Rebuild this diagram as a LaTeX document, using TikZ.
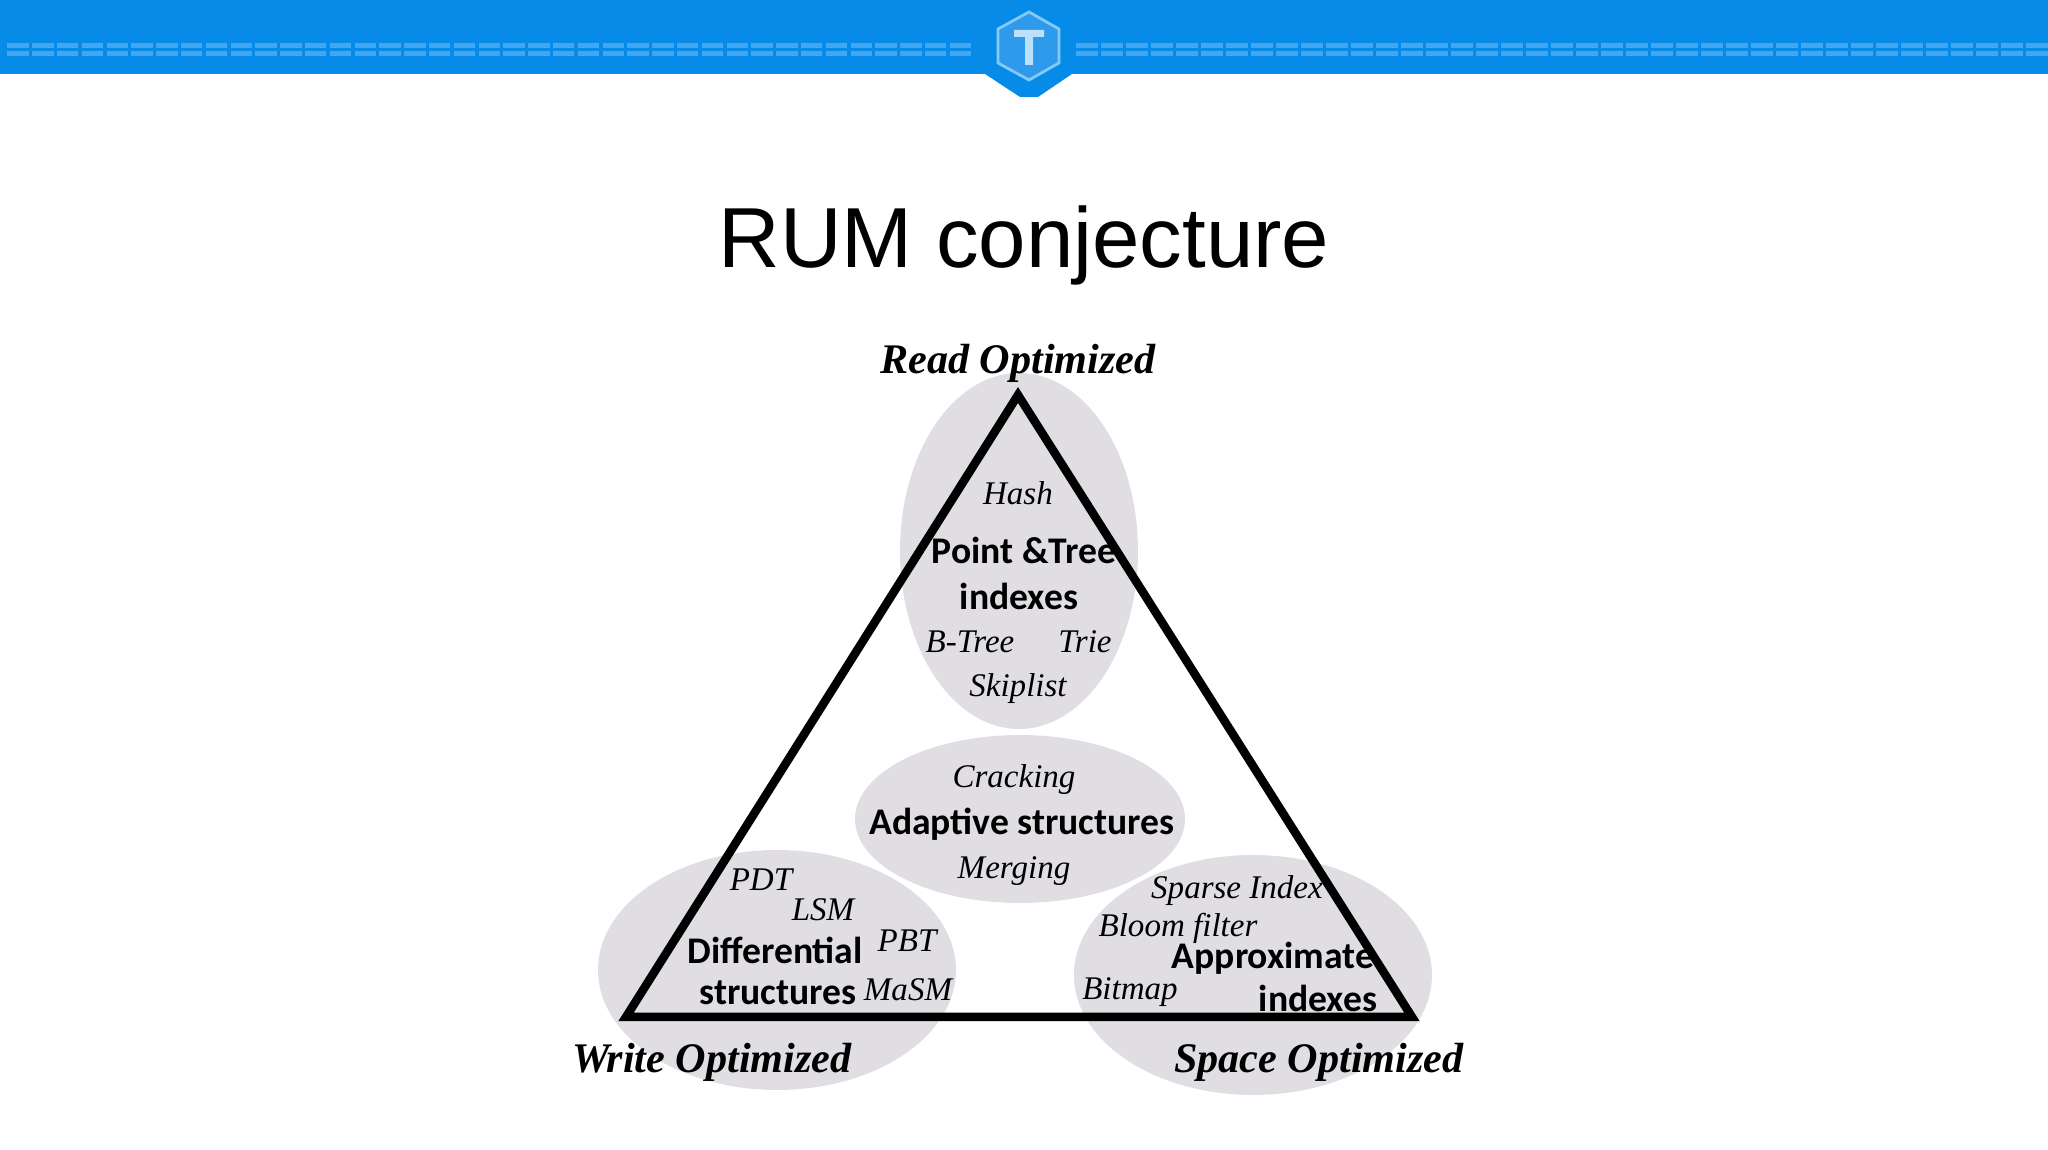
\documentclass[tikz,border=0pt]{standalone}
\usepackage{fontspec}
\usepackage{tikz}
\setmainfont{Liberation Serif}
\newfontfamily\titlefont{Liberation Sans}
\newfontfamily\boldfont{Carlito}
\usetikzlibrary{positioning, shapes, arrows}
\definecolor{barblue}{HTML}{068BE8}
\definecolor{dashblue}{HTML}{45A6F0}
\definecolor{hexblue}{HTML}{2E9AEC}
\definecolor{hexline}{HTML}{86C8F6}
\definecolor{tblue}{HTML}{BCDFFA}
\definecolor{blobgray}{HTML}{E0DEE2}
\tikzset{
  blob/.style={fill=blobgray},
  corner/.style={inner sep=0pt, font=\fontsize{12}{14}\selectfont\bfseries\itshape},
  kind/.style={inner sep=0pt, font=\boldfont\fontsize{10.7}{13}\selectfont\bfseries},
  item/.style={inner sep=0pt, font=\fontsize{9.4}{11}\selectfont\itshape}
}

\begin{document}
\begin{tikzpicture}
\useasboundingbox (0,0) rectangle (20.48,-11.5);
% header
\fill[barblue] (0,0) -- (20.48,0) -- (20.48,-.74) -- (10.72,-.74) -- (10.38,-.97) -- (10.2,-.97) -- (9.85,-.74) -- (0,-.74) -- cycle;
\foreach \i in {0,...,38} {
  \fill[dashblue] (.073+.248*\i,-.43) rectangle ++(.215,-.05);
  \fill[dashblue] (.073+.248*\i,-.51) rectangle ++(.215,-.05);
  \fill[dashblue] (10.76+.25*\i,-.43) rectangle ++(.215,-.05);
  \fill[dashblue] (10.76+.25*\i,-.51) rectangle ++(.215,-.05);
}
\draw[hexline, fill=hexblue, thick] (10.29,-.12) -- (10.59,-.29) -- (10.59,-.63) -- (10.29,-.8) -- (9.98,-.63) -- (9.98,-.29) -- cycle;
\fill[tblue] (10.14,-.3) -- (10.44,-.3) -- (10.44,-.37) -- (10.33,-.37) -- (10.33,-.65) -- (10.25,-.65) -- (10.25,-.37) -- (10.14,-.37) -- cycle;
\node[font=\titlefont\fontsize{24.25}{28}\selectfont] (title) at (10.24,-2.45) {RUM conjecture};

% gray regions
\fill[blob] (10.19,-5.51) ellipse (1.19 and 1.78);
\fill[blob] (10.2,-8.19) ellipse (1.65 and .84);
\fill[blob] (7.77,-9.7) ellipse (1.79 and 1.2);
\fill[blob] (12.53,-9.75) ellipse (1.79 and 1.2);

% triangle
\coordinate (top) at (10.18,-3.95);
\coordinate (lft) at (6.26,-10.17);
\coordinate (rgt) at (14.12,-10.17);
\draw[line width=.085cm] (top) -- (lft) -- (rgt) -- cycle;

\node[corner] (read) at (10.18,-3.63) {Read Optimized};
\node[corner] (write) at (7.12,-10.62) {Write Optimized};
\node[corner] (space) at (13.19,-10.62) {Space Optimized};

\node[item] (hash) at (10.18,-4.93) {Hash};
\node[kind] (point) at (10.24,-5.50) {Point \&Tree};
\node[kind] (indexa) at (10.19,-5.96) {indexes};
\node[item] (btree) at (9.70,-6.42) {B-Tree};
\node[item] (trie) at (10.85,-6.42) {Trie};
\node[item] (skip) at (10.18,-6.89) {Skiplist};

\node[item] (crack) at (10.14,-7.80) {Cracking};
\node[kind] (adapt) at (10.22,-8.24) {Adaptive structures};
\node[item] (merge) at (10.14,-8.71) {Merging};

\node[item] (pdt) at (7.61,-8.80) {PDT};
\node[item] (lsm) at (8.23,-9.10) {LSM};
\node[kind] (diff) at (7.75,-9.50) {Differential};
\node[item] (pbt) at (9.07,-9.41) {PBT};
\node[kind] (struct) at (7.78,-9.93) {structures};
\node[item] (masm) at (9.08,-9.90) {MaSM};

\node[item] (sparse) at (12.37,-8.91) {Sparse Index};
\node[item] (bloom) at (11.78,-9.28) {Bloom filter};
\node[kind] (approx) at (12.73,-9.58) {Approximate};
\node[item] (bitmap) at (11.30,-9.92) {Bitmap};
\node[kind] (indexb) at (13.18,-9.98) {indexes};
\end{tikzpicture}
\end{document}
